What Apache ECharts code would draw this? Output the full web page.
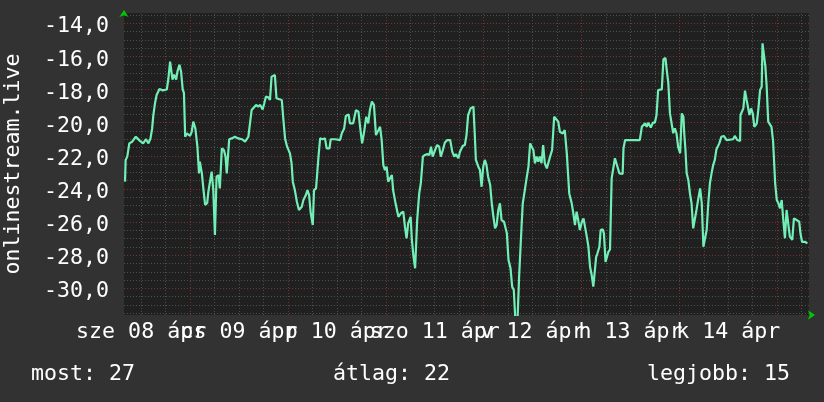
<!DOCTYPE html>
<html>
<head>
<meta charset="utf-8">
<script src="https://cdn.jsdelivr.net/npm/echarts@6/dist/echarts.min.js"></script>
<style>
html,body{margin:0;padding:0;background:#323232;}
#c{width:824px;height:402px;}
</style>
</head>
<body>
<div id="c"></div>
<script>
// hours since 2025-04-08 00:00
const hours = [8.05,8.2,8.6,9.1,9.8,10.7,11.7,12.5,13.2,13.8,14.3,14.7,15.0,15.4,15.8,16.5,17.3,18.3,18.7,19.1,19.5,19.7,20.1,20.6,20.9,21.4,21.8,22.2,22.5,22.8,23.2,24.0,24.4,24.8,25.3,25.8,26.2,26.4,26.9,27.3,27.7,28.2,28.5,28.9,29.3,29.7,30.1,30.4,30.5,31.0,31.3,31.8,32.3,32.7,33.0,33.3,33.6,34.2,35.0,35.8,36.7,37.5,38.3,38.7,39.1,39.5,40.2,40.7,41.2,41.8,42.2,42.6,43.2,43.6,44.0,44.4,44.8,45.2,45.9,46.5,46.9,47.3,47.8,48.5,48.9,49.2,49.7,50.2,50.7,51.4,51.8,52.4,52.8,53.2,53.6,54.1,54.4,54.9,55.5,55.9,56.5,57.1,57.5,58.2,58.5,59.6,60.8,61.2,61.8,62.2,62.9,63.2,64.0,64.7,65.3,65.7,66.2,66.7,67.2,67.7,68.1,68.6,69.1,69.6,70.2,70.6,71.0,71.4,71.8,72.2,72.6,73.0,73.5,73.8,74.4,75.1,75.7,76.3,76.7,77.1,77.5,78.1,78.4,78.8,79.2,79.7,80.2,80.6,81.1,81.6,82.2,82.7,83.1,83.5,84.1,84.6,85.1,85.5,86.0,86.5,87.1,87.8,88.3,88.8,89.2,89.8,90.2,90.9,91.4,91.8,92.2,92.8,93.5,93.8,94.1,94.7,95.1,95.5,95.9,96.3,96.7,97.1,97.6,98.0,98.4,98.8,99.2,99.6,100.0,100.4,101.0,101.7,102.1,102.6,103.0,103.4,103.8,104.3,104.7,104.9,105.3,105.6,106.1,106.6,107.0,107.4,107.8,108.2,108.6,109.0,109.4,109.8,110.2,110.6,111.0,111.5,111.9,112.3,112.8,113.3,113.7,114.3,114.7,115.4,115.9,116.4,117.0,117.6,118.0,118.4,118.8,119.2,119.6,120.1,120.5,120.9,121.3,121.7,122.1,122.5,122.9,123.3,123.6,123.9,124.4,124.7,125.2,125.5,125.9,126.2,126.6,127.0,127.4,127.8,128.2,128.6,129.3,130.1,130.3,130.7,132.7,134.3,134.8,135.6,136.0,136.4,137.0,137.5,138.0,138.4,138.8,139.7,140.1,140.6,140.9,141.3,141.7,142.1,142.5,142.9,143.3,143.7,144.2,144.6,145.0,145.2,145.5,145.8,146.2,146.6,147.0,147.4,147.8,148.2,148.6,149.1,149.5,149.9,150.3,150.7,151.1,151.5,151.9,152.3,152.7,153.1,153.8,154.3,154.9,155.6,157.2,157.6,158.2,158.9,159.0,159.7,160.1,160.5,160.9,161.2,161.6,162.0,162.4,163.0,163.4,163.8,164.2,164.4,164.8,165.1,165.4,165.8,166.2,166.6,167.0,167.5,167.9,168.3,168.7,169.1,169.5,169.9,170.3,170.7,171.1,171.7,172.1,172.8,173.4,173.7,174.1,174.8,175.4];
const values = [-23.56,-22.25,-22.05,-21.25,-21.15,-20.85,-21.1,-21.25,-21.0,-21.25,-20.95,-20.35,-19.54,-18.83,-18.33,-17.97,-18.05,-18.0,-17.32,-16.32,-16.4,-17.4,-17.1,-17.4,-16.92,-16.5,-16.92,-18.0,-18.2,-20.85,-20.65,-20.8,-20.55,-19.94,-20.35,-21.45,-23.06,-22.35,-23.06,-24.07,-24.97,-24.85,-24.15,-24.07,-22.96,-24.07,-26.78,-26.78,-23.26,-23.16,-23.97,-21.55,-21.65,-22.05,-23.06,-23.06,-21.0,-20.95,-20.85,-20.95,-21.0,-21.15,-20.85,-20.04,-19.24,-19.34,-18.93,-19.03,-18.93,-19.2,-18.83,-18.43,-18.47,-18.63,-17.22,-17.12,-17.12,-18.53,-18.59,-18.63,-19.84,-20.95,-21.45,-21.85,-22.45,-23.56,-24.07,-24.77,-25.27,-25.07,-24.67,-24.37,-24.07,-24.37,-25.47,-26.18,-24.07,-23.97,-22.05,-20.95,-21.0,-20.95,-21.55,-21.55,-21.0,-21.0,-21.05,-20.65,-20.35,-19.6,-19.5,-20.04,-20.04,-19.24,-19.34,-20.25,-21.25,-20.55,-19.64,-20.04,-19.24,-18.73,-18.93,-20.75,-20.45,-20.25,-21.05,-22.56,-22.86,-22.66,-23.56,-23.46,-23.16,-24.07,-24.87,-25.68,-25.47,-25.37,-26.28,-26.98,-26.08,-25.68,-27.08,-28.09,-28.79,-25.88,-24.27,-23.66,-22.05,-21.95,-21.9,-21.95,-21.45,-22.05,-21.65,-21.35,-21.45,-22.05,-21.65,-21.2,-21.05,-21.05,-21.75,-22.05,-21.9,-22.15,-21.75,-21.4,-21.35,-20.75,-19.54,-19.14,-19.03,-20.55,-22.25,-22.66,-22.86,-23.87,-22.66,-22.25,-22.56,-23.26,-23.76,-24.87,-25.68,-26.38,-26.18,-25.27,-24.87,-25.88,-25.98,-26.68,-28.29,-28.79,-29.9,-30.1,-32.0,-32.0,-29.3,-28.29,-26.28,-24.87,-24.07,-23.26,-22.66,-21.25,-21.15,-21.65,-22.45,-22.05,-22.35,-22.05,-22.45,-21.35,-22.45,-22.76,-22.86,-22.05,-21.65,-19.64,-19.74,-19.94,-20.55,-20.65,-20.45,-21.85,-24.27,-24.87,-25.47,-26.18,-25.37,-25.88,-26.48,-25.98,-25.78,-25.88,-26.88,-27.49,-28.7,-29.2,-29.9,-29.9,-28.1,-27.9,-27.49,-26.48,-26.44,-26.68,-28.4,-28.4,-27.8,-27.65,-23.36,-22.76,-22.15,-22.05,-23.06,-23.1,-21.55,-21.05,-21.05,-21.05,-20.25,-20.04,-20.25,-20.0,-20.3,-20.0,-20.0,-19.54,-18.03,-17.99,-16.17,-16.1,-16.82,-17.62,-19.44,-19.54,-20.64,-20.35,-20.64,-21.45,-21.85,-19.44,-19.64,-20.64,-21.65,-23.06,-23.46,-24.27,-24.87,-26.38,-26.38,-25.27,-24.67,-23.97,-24.87,-27.49,-27.59,-26.48,-24.87,-23.66,-23.06,-22.56,-22.25,-21.6,-21.25,-20.85,-20.8,-21.05,-21.0,-20.8,-21.05,-21.1,-19.54,-19.14,-18.07,-18.63,-18.73,-19.54,-19.14,-19.44,-20.25,-20.04,-19.14,-18.03,-17.83,-15.21,-15.21,-16.62,-17.73,-19.94,-20.04,-20.25,-21.15,-23.66,-24.67,-24.87,-25.17,-24.67,-25.88,-26.98,-25.27,-25.27,-26.88,-27.08,-25.78,-25.88,-25.98,-26.68,-27.19,-27.19,-27.29];

const xLabelHours = [12, 36, 60, 84, 108, 132, 156];
const xLabels = ['sze 08 ápr', 'cs 09 ápr', 'p 10 ápr', 'szo 11 ápr', 'v 12 ápr', 'h 13 ápr', 'k 14 ápr'];
const yTicks = [-30, -28, -26, -24, -22, -20, -18, -16, -14];
const yTitle = 'onlinestream.live';
const legendNames = ['most', 'átlag', 'legjobb'];
const legendValues = [27, 22, 15];

const X_MIN = 7.8, X_MAX = 175.8, Y_MIN = -31.61, Y_MAX = -13.38;
const FONT = 'DejaVu Sans Mono';
const FS = 21.6;

const gridLines = [];
for (let v = -31.5; v <= -13.5; v += 0.5) {
  const major = Math.abs(v % 2) < 1e-6;
  gridLines.push({yAxis: v, lineStyle: {color: major ? '#7c3030' : '#4e4e4e', type: [1, 2], width: 1}});
}
for (let h = 12; h <= 174; h += 6) {
  const major = h % 24 === 0;
  gridLines.push({xAxis: h, lineStyle: {color: major ? '#7c3030' : '#4e4e4e', type: [1, 2], width: 1}});
}

// labels split over two axes so overlapping neighbours are both drawn
const evenHours = xLabelHours.filter((h, i) => i % 2 === 0);
const oddHours = xLabelHours.filter((h, i) => i % 2 === 1);
function xAxisFor(custom, withArrow) {
  return {
    type: 'value', min: X_MIN, max: X_MAX, position: 'bottom', offset: 0,
    splitLine: {show: false},
    axisTick: {show: false},
    axisLine: withArrow
      ? {show: true, symbol: ['none', 'arrow'], symbolSize: [7, 7], symbolOffset: [0, 6], lineStyle: {color: '#00c800', width: 0}}
      : {show: false},
    axisLabel: {
      customValues: custom, hideOverlap: false, showMinLabel: true, showMaxLabel: true,
      color: '#ffffff', fontFamily: FONT, fontSize: FS, margin: 6,
      formatter: v => { const i = xLabelHours.indexOf(v); return i >= 0 ? xLabels[i] : ''; }
    }
  };
}

const chart = echarts.init(document.getElementById('c'), null, {renderer: 'canvas'});
chart.setOption({
  backgroundColor: '#323232',
  animation: false,
  grid: {left: 124, right: 15, top: 13, bottom: 87, show: true, backgroundColor: '#202020', borderWidth: 0,
         containLabel: false, outerBoundsMode: 'none'},
  xAxis: [xAxisFor(evenHours, true), xAxisFor(oddHours, false)],
  yAxis: {
    type: 'value', min: Y_MIN, max: Y_MAX,
    name: yTitle, nameLocation: 'middle', nameGap: 100, nameRotate: 90,
    nameTextStyle: {color: '#ffffff', fontFamily: FONT, fontSize: FS},
    splitLine: {show: false},
    axisTick: {show: false},
    axisLine: {show: true, symbol: ['none', 'arrow'], symbolSize: [7, 7], symbolOffset: [0, 3], lineStyle: {color: '#00c800', width: 0}},
    axisLabel: {
      customValues: yTicks, hideOverlap: false, showMinLabel: true, showMaxLabel: true,
      color: '#ffffff', fontFamily: FONT, fontSize: FS, margin: 15,
      verticalAlign: 'top', lineHeight: 7,
      formatter: v => v.toFixed(1).replace('.', ',')
    }
  },
  graphic: legendNames.map((n, i) => ({
    type: 'text',
    left: [31, 333, 647][i], top: 363,
    style: {text: n + ': ' + legendValues[i], fill: '#ffffff', font: FS + 'px "' + FONT + '"'}
  })),
  series: [{
    type: 'line',
    xAxisIndex: 0,
    data: hours.map((h, i) => [h, values[i]]),
    showSymbol: false,
    z: 3,
    lineStyle: {color: '#72efb6', width: 2.2},
    markLine: {silent: true, z: 1, symbol: ['none', 'none'], label: {show: false}, animation: false, data: gridLines}
  }]
});
</script>
</body>
</html>
